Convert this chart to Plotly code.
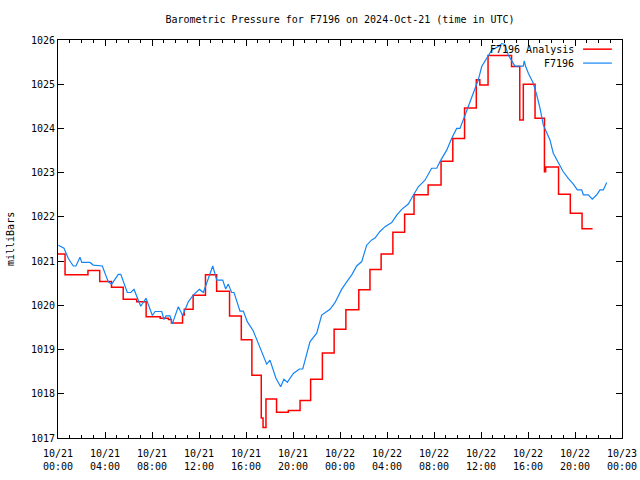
import plotly.graph_objects as go
from datetime import datetime, timedelta

BASE = datetime(2024, 10, 21, 0, 0)

# Analysis series (step values): hour offset from 10/21 00:00 UTC, pressure (mb)
analysis_hours = [0.0, 0.6, 2.55, 3.55, 4.55, 5.55, 6.7, 7.5, 8.7, 9.4, 9.65, 10.6, 10.75,
                  11.5, 12.55, 13.5, 14.6, 15.6, 16.5, 17.3, 17.45, 17.7, 18.6, 19.6, 20.6,
                  21.5, 22.5, 23.5, 24.5, 25.6, 26.55, 27.5, 28.5, 29.5, 30.3, 31.5, 32.6,
                  33.6, 34.6, 35.6, 35.9, 36.6, 38.6, 39.3, 39.6, 40.6, 41.4, 41.5, 42.6,
                  43.6, 44.6, 45.5]
analysis_mb = [1021.16, 1020.69, 1020.79, 1020.54, 1020.41, 1020.14, 1020.08, 1019.74, 1019.71,
               1019.68, 1019.60, 1019.78, 1019.91, 1020.23, 1020.69, 1020.32, 1019.76, 1019.22,
               1018.42, 1017.45, 1017.24, 1017.88, 1017.58, 1017.62, 1017.85, 1018.33, 1018.92,
               1019.46, 1019.90, 1020.35, 1020.81, 1021.16, 1021.65, 1022.06, 1022.50, 1022.72,
               1023.26, 1023.77, 1024.46, 1025.10, 1024.98, 1025.65, 1025.40, 1024.19, 1025.00,
               1024.23, 1023.02, 1023.13, 1022.51, 1022.08, 1021.73, 1021.73]

# Station observations
obs_hours = [0.03, 0.51, 0.88, 1.30, 1.53, 1.87, 2.02, 2.72, 3.00, 3.77, 4.28, 4.57, 5.13, 5.34,
             5.90, 6.19, 6.47, 7.04, 7.49, 8.03, 8.26, 8.83, 9.02, 9.19, 9.53, 9.73, 10.24,
             10.61, 11.09, 11.51, 12.03, 12.37, 13.17, 13.51, 14.02, 14.27, 14.49, 14.78,
             14.98, 15.49, 15.77, 16.11, 16.62, 17.05, 17.47, 17.76, 18.04, 18.55, 18.95,
             19.23, 19.51, 20.03, 20.54, 20.83, 21.45, 22.02, 22.44, 23.15, 23.57, 24.14,
             24.57, 25.00, 25.42, 25.85, 26.27, 26.70, 26.98, 27.40, 27.83, 28.40, 28.83,
             29.25, 29.81, 30.24, 30.66, 31.23, 31.80, 32.23, 32.51, 33.08, 33.51, 33.93,
             34.21, 34.64, 35.06, 35.49, 35.77, 36.06, 36.49, 36.91, 37.47, 37.76, 38.04,
             38.32, 38.89, 39.60, 39.68, 39.79, 40.03, 40.45, 40.74, 41.02, 41.30, 41.59,
             41.87, 42.15, 42.44, 42.72, 43.00, 43.43, 43.86, 44.20, 44.57, 44.71, 45.13,
             45.47, 45.85, 46.13, 46.41, 46.70]
obs_mb = [1021.36, 1021.29, 1021.06, 1020.89, 1020.89, 1021.09, 1020.97, 1020.97, 1020.91,
          1020.89, 1020.53, 1020.48, 1020.70, 1020.70, 1020.29, 1020.29, 1020.36, 1019.98,
          1020.16, 1019.77, 1019.86, 1019.86, 1019.68, 1019.76, 1019.76, 1019.58, 1019.97,
          1019.77, 1020.08, 1020.23, 1020.36, 1020.29, 1020.89, 1020.57, 1020.57, 1020.37,
          1020.48, 1020.29, 1020.29, 1019.87, 1019.87, 1019.63, 1019.42, 1019.14, 1018.88,
          1018.67, 1018.76, 1018.35, 1018.16, 1018.33, 1018.26, 1018.46, 1018.56, 1018.56,
          1019.18, 1019.37, 1019.78, 1019.91, 1020.06, 1020.36, 1020.53, 1020.69, 1020.89,
          1020.99, 1021.36, 1021.48, 1021.52, 1021.67, 1021.78, 1021.87, 1022.04, 1022.17,
          1022.29, 1022.50, 1022.68, 1022.83, 1023.10, 1023.10, 1023.25, 1023.51, 1023.78,
          1024.00, 1024.00, 1024.30, 1024.60, 1024.87, 1025.10, 1025.40, 1025.58, 1025.77,
          1025.85, 1025.92, 1025.90, 1025.66, 1025.41, 1025.41, 1025.53, 1025.41, 1025.25,
          1025.02, 1024.76, 1024.46, 1024.08, 1023.89, 1023.74, 1023.44, 1023.29, 1023.17,
          1023.02, 1022.87, 1022.74, 1022.61, 1022.61, 1022.50, 1022.50, 1022.40, 1022.50,
          1022.61, 1022.61, 1022.78]

tick_hours = [0, 4, 8, 12, 16, 20, 24, 28, 32, 36, 40, 44, 48]
tick_labels = ["10/21<br>00:00", "10/21<br>04:00", "10/21<br>08:00", "10/21<br>12:00",
               "10/21<br>16:00", "10/21<br>20:00", "10/22<br>00:00", "10/22<br>04:00",
               "10/22<br>08:00", "10/22<br>12:00", "10/22<br>16:00", "10/22<br>20:00",
               "10/23<br>00:00"]
y_ticks = [1017, 1018, 1019, 1020, 1021, 1022, 1023, 1024, 1025, 1026]

series_names = ["F7196 Analysis", "F7196"]
series_colors = ["#ff0000", "#1384f5"]
series_widths = [1.5, 1.2]

def to_dt(hs):
    return [BASE + timedelta(hours=h) for h in hs]

FONT = "DejaVu Sans Mono"
FS = 10

fig = go.Figure()
fig.add_trace(go.Scatter(x=to_dt(analysis_hours), y=analysis_mb, mode="lines",
                         line=dict(color=series_colors[0], width=series_widths[0], shape="hv"),
                         name=series_names[0], showlegend=False))
fig.add_trace(go.Scatter(x=to_dt(obs_hours), y=obs_mb, mode="lines",
                         line=dict(color=series_colors[1], width=series_widths[1]),
                         name=series_names[1], showlegend=False))

# gnuplot-like legend (text right-aligned, sample to the right)
legend_y = [0.977, 0.942]
for name, color, w, ly in zip(series_names, series_colors, series_widths, legend_y):
    fig.add_annotation(x=0.918, y=ly, xref="paper", yref="paper", text=name,
                       showarrow=False, xanchor="right", yanchor="middle",
                       font=dict(family=FONT, size=FS, color="black"))
    fig.add_shape(type="line", xref="paper", yref="paper", x0=0.931, x1=0.982,
                  y0=ly, y1=ly, line=dict(color=color, width=w))

# y-axis title placed like gnuplot's
fig.add_annotation(x=-48 / 564, y=0.5, xref="paper", yref="paper", text="milliBars",
                   showarrow=False, textangle=-90, xanchor="center", yanchor="middle",
                   font=dict(family=FONT, size=FS))

fig.update_layout(
    width=640, height=480,
    margin=dict(l=58, r=18, t=40, b=42, autoexpand=False),
    paper_bgcolor="white", plot_bgcolor="white",
    font=dict(family=FONT, size=FS, color="black"),
    title=dict(text="Barometric Pressure for F7196 on 2024-Oct-21 (time in UTC)",
               x=0.5, xanchor="center", xref="paper", y=1 - 19 / 480, yanchor="middle",
               yref="container", font=dict(family=FONT, size=FS)),
    showlegend=False,
)
fig.update_xaxes(
    range=[BASE, BASE + timedelta(hours=48)],
    tickvals=to_dt(tick_hours), ticktext=tick_labels, automargin=False,
    ticks="inside", ticklen=6, tickcolor="black", tickwidth=1, ticklabelstandoff=6,
    showline=True, linecolor="black", linewidth=1, mirror="allticks",
    showgrid=False, zeroline=False,
    minor=dict(ticks="inside", ticklen=3, dtick=3600000, tick0=BASE, tickcolor="black", showgrid=False),
    tickfont=dict(family=FONT, size=FS),
)
fig.update_yaxes(
    range=[1017, 1026], tickvals=y_ticks, automargin=False,
    ticks="inside", ticklen=6, tickcolor="black", tickwidth=1,
    showline=True, linecolor="black", linewidth=1, mirror="allticks",
    showgrid=False, zeroline=False,
    tickfont=dict(family=FONT, size=FS),
)

fig.write_html("out.html", config={"displayModeBar": False},
               post_script="document.body.style.margin='0';document.body.style.overflow='hidden';")
